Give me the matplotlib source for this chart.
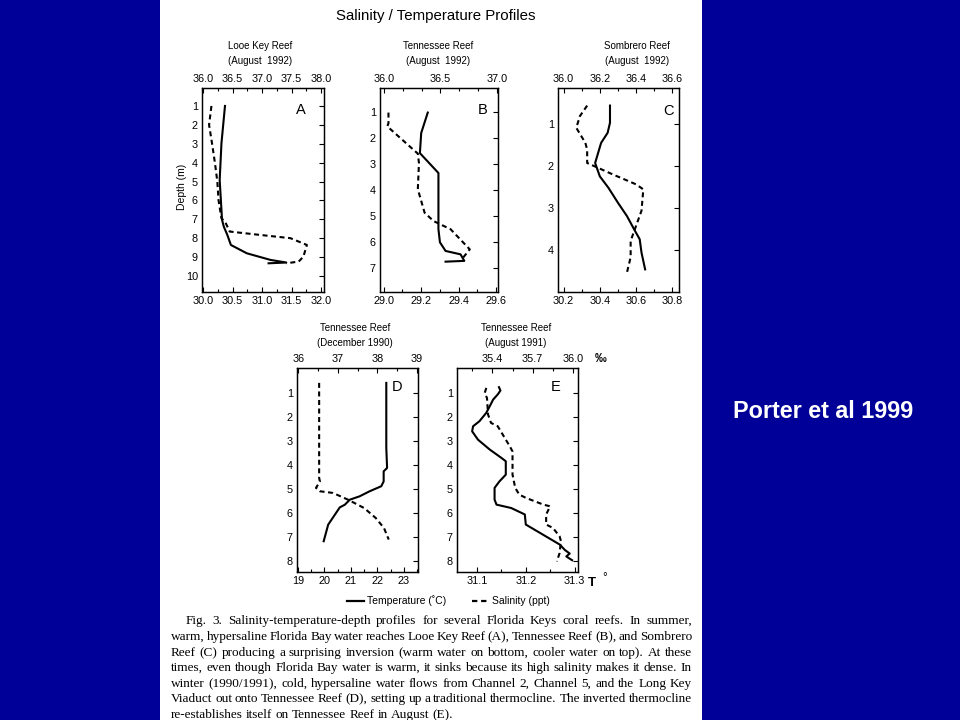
import matplotlib
matplotlib.use("Agg")
import matplotlib.pyplot as plt
from matplotlib.lines import Line2D
from matplotlib.ticker import MultipleLocator

plt.rcParams['font.family'] = ['Liberation Sans', 'DejaVu Sans']

W, H = 960, 720

# ---- data (temperature on bottom axis, salinity on top axis)
a_temp = [30.37, 30.31, 30.28, 30.32, 30.35, 30.41, 30.47, 30.74, 31.14, 31.41, 31.11]
a_temp_depth = [1.0, 2.98, 4.92, 7.03, 7.39, 7.83, 8.36, 8.8, 9.15, 9.29, 9.33]
a_sal = [36.14, 36.10, 36.15, 36.20, 36.24, 36.26, 36.31, 36.37, 36.45, 36.97, 37.48, 37.76, 37.70, 37.62, 37.41]
a_sal_depth = [1.0, 2.0, 2.98, 4.03, 5.0, 5.98, 6.95, 7.12, 7.65, 7.83, 8.0, 8.36, 8.98, 9.24, 9.33]

b_temp = [29.235, 29.20, 29.193, 29.292, 29.292, 29.292, 29.30, 29.33, 29.41, 29.43, 29.33]
b_temp_depth = [1.04, 1.82, 2.59, 3.35, 4.36, 5.5, 6.0, 6.33, 6.46, 6.71, 6.74]
b_sal = [36.04, 36.04, 36.03, 36.30, 36.31, 36.30, 36.36, 36.44, 36.59, 36.76, 36.70]
b_sal_depth = [1.04, 1.44, 1.57, 2.61, 2.97, 3.97, 4.87, 5.19, 5.5, 6.27, 6.59]

c_temp = [30.456, 30.456, 30.443, 30.407, 30.374, 30.40, 30.447, 30.50, 30.55, 30.59, 30.62, 30.63, 30.65]
c_temp_depth = [0.55, 0.96, 1.2, 1.44, 1.92, 2.24, 2.51, 2.87, 3.19, 3.51, 3.74, 4.06, 4.46]
c_sal = [36.13, 36.09, 36.07, 36.12, 36.13, 36.13, 36.27, 36.40, 36.44, 36.43, 36.39, 36.37, 36.37, 36.35]
c_sal_depth = [0.55, 0.80, 1.08, 1.44, 1.6, 1.92, 2.19, 2.43, 2.55, 3.06, 3.54, 3.78, 4.17, 4.53]

d_temp = [22.34, 22.34, 22.37, 22.24, 22.24, 22.15, 21.71, 21.33, 20.96, 20.77, 20.58, 20.39, 20.14, 19.97]
d_temp_depth = [0.58, 3.29, 4.12, 4.26, 4.68, 4.88, 5.09, 5.30, 5.44, 5.65, 5.76, 6.07, 6.48, 7.17]
d_sal = [36.53, 36.53, 36.55, 36.45, 36.55, 36.88, 37.26, 37.67, 37.96, 38.17, 38.29]
d_sal_depth = [0.58, 4.54, 4.68, 4.95, 5.09, 5.16, 5.44, 5.79, 6.2, 6.62, 7.1]

e_temp = [31.145, 31.148, 31.143, 31.133, 31.126, 31.119, 31.105, 31.092, 31.09, 31.102, 31.126, 31.15,
          31.159, 31.159, 31.146, 31.136, 31.136, 31.14, 31.17, 31.198, 31.20, 31.235, 31.27, 31.28,
          31.29, 31.283, 31.295]
e_temp_depth = [0.76, 0.9, 1.05, 1.28, 1.56, 1.83, 2.18, 2.39, 2.6, 2.95, 3.36, 3.71, 3.85, 4.41, 4.69,
                4.96, 5.45, 5.66, 5.80, 6.07, 6.49, 6.91, 7.33, 7.55, 7.7, 7.82, 7.98]
e_sal = [35.355, 35.343, 35.36, 35.368, 35.39, 35.44, 35.47, 35.53, 35.55, 35.55, 35.57, 35.60, 35.65,
         35.78, 35.83, 35.80, 35.80, 35.85, 35.90, 35.91, 35.90, 35.88]
e_sal_depth = [0.79, 1.0, 1.21, 1.9, 2.25, 2.39, 2.67, 3.23, 3.44, 4.41, 4.96, 5.24, 5.38, 5.66, 5.73,
               6.07, 6.49, 6.63, 6.98, 7.18, 7.68, 8.03]

panel_titles = {
    "A": ("Looe Key Reef", "(August  1992)"),
    "B": ("Tennessee Reef", "(August  1992)"),
    "C": ("Sombrero Reef", "(August  1992)"),
    "D": ("Tennessee Reef", "(December 1990)"),
    "E": ("Tennessee Reef", "(August 1991)"),
}
temp_ticks = {
    "A": [30.0, 30.5, 31.0, 31.5, 32.0],
    "B": [29.0, 29.2, 29.4, 29.6],
    "C": [30.2, 30.4, 30.6, 30.8],
    "D": [19, 20, 21, 22, 23],
    "E": [31.1, 31.2, 31.3],
}
sal_ticks = {
    "A": [36.0, 36.5, 37.0, 37.5, 38.0],
    "B": [36.0, 36.5, 37.0],
    "C": [36.0, 36.2, 36.4, 36.6],
    "D": [36, 37, 38, 39],
    "E": [35.4, 35.7, 36.0],
}
depth_ticks = {
    "A": list(range(1, 11)),
    "B": list(range(1, 8)),
    "C": list(range(1, 5)),
    "D": list(range(1, 9)),
    "E": list(range(1, 9)),
}

caption_lines = [
    "Fig. 3.  Salinity-temperature-depth profiles for several Florida Keys coral reefs. In summer,",
    "warm, hypersaline Florida Bay water reaches Looe Key Reef (A), Tennessee Reef (B), and Sombrero",
    "Reef (C) producing a surprising inversion (warm water on bottom, cooler water on top). At these",
    "times, even though Florida Bay water is warm, it sinks because its high salinity makes it dense. In",
    "winter (1990/1991), cold, hypersaline water flows from Channel 2, Channel 5, and the Long Key",
    "Viaduct out onto Tennessee Reef (D), setting up a traditional thermocline. The inverted thermocline",
    "re-establishes itself on Tennessee Reef in August (E).",
]

# ---- layout (pixel boxes: left, top, right, bottom) and axis ranges
boxes = {"A": (202, 88, 324, 292), "B": (380, 88, 498, 292), "C": (558, 88, 679, 292),
         "D": (297, 368, 418, 572), "E": (457, 368, 578, 572)}
temp_lim = {"A": (29.98, 32.05), "B": (28.98, 29.61), "C": (30.169, 30.837),
            "D": (18.96, 23.54), "E": (31.059, 31.307)}
sal_lim = {"A": (35.98, 38.05), "B": (35.965, 37.01), "C": (35.969, 36.637),
           "D": (35.97, 39.03), "E": (35.137, 36.037)}
depth_lim = {"A": (10.85, 0.05), "B": (7.9, 0.1), "C": (5.0, 0.13),
             "D": (8.45, -0.04), "E": (8.47, -0.04)}
temp_minor = {"A": 0.25, "B": 0.1, "C": 0.1, "D": 0.5, "E": 0.05}
sal_minor = {"A": 0.25, "B": 1 / 6, "C": 0.1, "D": 0.5, "E": 0.15}
title_xy = {"A": (260, 46), "B": (438, 46), "C": (637, 46), "D": (355, 328), "E": (516, 328)}
letter_xy = {"A": (301, 110), "B": (483, 110), "C": (669, 111), "D": (397, 387), "E": (556, 387)}

data = {
    "A": (a_temp, a_temp_depth, a_sal, a_sal_depth),
    "B": (b_temp, b_temp_depth, b_sal, b_sal_depth),
    "C": (c_temp, c_temp_depth, c_sal, c_sal_depth),
    "D": (d_temp, d_temp_depth, d_sal, d_sal_depth),
    "E": (e_temp, e_temp_depth, e_sal, e_sal_depth),
}

BLUE = "#000099"
DASH = (0, (2.4, 1.7))
TICK_FS = 7.8


def fx(px):
    return px / W


def fy(py):
    return 1 - py / H


fig = plt.figure(figsize=(9.6, 7.2), dpi=100, facecolor=BLUE)
# white page in the middle
page = fig.add_axes([fx(160), 0, fx(702) - fx(160), 1])
page.set_facecolor("white")
page.set_xticks([])
page.set_yticks([])
for s in page.spines.values():
    s.set_visible(False)

for key in ["A", "B", "C", "D", "E"]:
    l, t, r, b = boxes[key]
    ax = fig.add_axes([fx(l), fy(b), fx(r) - fx(l), fy(t) - fy(b)])
    ax.set_facecolor("none")
    temp, temp_d, sal, sal_d = data[key]
    ax.plot(temp, temp_d, color="black", lw=1.5, solid_joinstyle="round")
    ax.set_xlim(*temp_lim[key])
    ax.set_ylim(*depth_lim[key])
    ax.set_xticks(temp_ticks[key])
    if key == "D":
        ax.set_xticklabels(["%g" % v for v in temp_ticks[key]])
    else:
        ax.set_xticklabels(["%.1f" % v for v in temp_ticks[key]])
    ax.xaxis.set_minor_locator(MultipleLocator(temp_minor[key]))
    ax.set_yticks(depth_ticks[key])
    ax.tick_params(which="both", direction="in", labelsize=TICK_FS, length=3.5, width=0.8,
                   right=True, left=False, pad=3)
    ax.tick_params(which="minor", length=2.5)

    ax2 = ax.twiny()
    ax2.plot(sal, sal_d, color="black", lw=1.5, linestyle=DASH)
    ax2.set_xlim(*sal_lim[key])
    ax2.set_xticks(sal_ticks[key])
    if key == "D":
        ax2.set_xticklabels(["%g" % v for v in sal_ticks[key]])
    else:
        ax2.set_xticklabels(["%.1f" % v for v in sal_ticks[key]])
    ax2.xaxis.set_minor_locator(MultipleLocator(sal_minor[key]))
    ax2.tick_params(which="both", direction="in", labelsize=TICK_FS, length=3.5, width=0.8, pad=3)
    ax2.tick_params(which="minor", length=2.5)
    for a in (ax, ax2):
        for s in a.spines.values():
            s.set_linewidth(0.9)

    tx, ty = title_xy[key]
    fig.text(fx(tx), fy(ty), panel_titles[key][0], ha="center", va="center", fontsize=7)
    fig.text(fx(tx), fy(ty + 15), panel_titles[key][1], ha="center", va="center", fontsize=7)
    lx, ly = letter_xy[key]
    fig.text(fx(lx), fy(ly), key, ha="center", va="center", fontsize=10.5)

fig.text(fx(182), fy(187), "Depth (m)", rotation=90, ha="center", va="center", fontsize=7.5)
fig.text(fx(436), fy(16), "Salinity / Temperature Profiles", ha="center", va="center", fontsize=10.8)
fig.text(fx(601), fy(359), "\u2030", ha="center", va="center", fontsize=8.5, fontweight="bold")
fig.text(fx(592), fy(583), "T", ha="center", va="center", fontsize=9.5, fontweight="bold")
fig.text(fx(605), fy(578), "\u00b0", ha="center", va="center", fontsize=8.5)

# legend under panels D and E
fig.add_artist(Line2D([fx(347), fx(364)], [fy(601), fy(601)], color="black", lw=1.6))
fig.text(fx(367), fy(601), "Temperature (\u02daC)", ha="left", va="center", fontsize=7.5)
fig.add_artist(Line2D([fx(472), fx(488)], [fy(601), fy(601)], color="black", lw=1.6, linestyle=DASH))
fig.text(fx(492), fy(601), "Salinity (ppt)", ha="left", va="center", fontsize=7.5)

# justified caption
renderer = fig.canvas.get_renderer()
cap_left, cap_right, cap_indent = 171, 692, 15
line_y = [621, 637, 653, 668, 684, 699, 715]
for i, line in enumerate(caption_lines):
    words = line.split()
    x0 = cap_left + (cap_indent if i == 0 else 0)
    texts = [fig.text(0, 0, w, fontsize=9.5, family="Liberation Serif", va="center", ha="left")
             for w in words]
    widths = [t.get_window_extent(renderer).width for t in texts]
    if i == len(caption_lines) - 1:
        gap = 3.2
    else:
        gap = (cap_right - x0 - sum(widths)) / (len(words) - 1)
    x = x0
    for t, w in zip(texts, widths):
        t.set_position((fx(x), fy(line_y[i])))
        x += w + gap

fig.text(fx(823), fy(412), "Porter et al 1999", color="white", fontsize=16.8,
         fontweight="bold", ha="center", va="center")

fig.savefig("out.png", dpi=100, facecolor=BLUE)
